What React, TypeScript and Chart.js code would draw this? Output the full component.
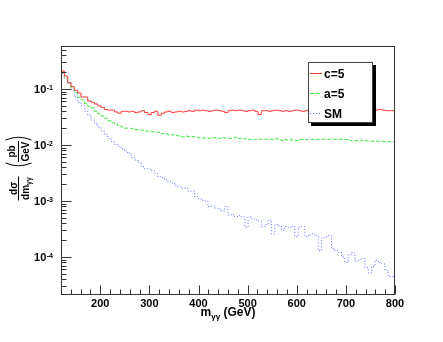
import React, { useEffect, useRef } from 'react';
import { Chart, registerables } from 'chart.js';

Chart.register(...registerables);

// ---- data ----
const X_MIN = 120;
const X_MAX = 800;
const Y_MIN = 2.1e-5;
const Y_MAX = 0.586;
const N_BINS = 100;

const SERIES_LABELS = ['c=5', 'a=5', 'SM'];

const C5 = [
  0.30, 0.21, 0.17, 0.13, 0.11, 0.095, 0.085, 0.072, 0.072, 0.061,
  0.058, 0.054, 0.050, 0.047, 0.043, 0.042, 0.042, 0.039, 0.037, 0.040,
  0.040, 0.039, 0.040, 0.038, 0.039, 0.041, 0.038, 0.035, 0.038, 0.040,
  0.034, 0.037, 0.039, 0.040, 0.038, 0.039, 0.040, 0.039, 0.040, 0.041,
  0.040, 0.042, 0.041, 0.042, 0.041, 0.040, 0.041, 0.042, 0.041, 0.040,
  0.038, 0.041, 0.042, 0.041, 0.042, 0.041, 0.040, 0.041, 0.042, 0.040,
  0.035, 0.041, 0.041, 0.040, 0.041, 0.042, 0.041, 0.040, 0.041, 0.040,
  0.041, 0.042, 0.041, 0.040, 0.041, 0.040, 0.039, 0.040, 0.041, 0.040,
  0.039, 0.040, 0.040, 0.039, 0.038, 0.039, 0.040, 0.038, 0.037, 0.038,
  0.037, 0.038, 0.039, 0.038, 0.041, 0.042, 0.043, 0.042, 0.041, 0.041,
];

const A5 = [
  0.34, 0.20, 0.16, 0.13, 0.105, 0.086, 0.070, 0.064, 0.055, 0.049,
  0.046, 0.040, 0.036, 0.033, 0.030, 0.027, 0.025, 0.024, 0.022, 0.021,
  0.020, 0.0200, 0.0195, 0.0190, 0.0185, 0.0185, 0.0178, 0.0175, 0.0172, 0.0170,
  0.0168, 0.0160, 0.0158, 0.0150, 0.0152, 0.0148, 0.0145, 0.0140, 0.0144, 0.0142,
  0.0141, 0.0140, 0.0135, 0.0133, 0.0136, 0.0132, 0.0134, 0.0135, 0.0132, 0.0136,
  0.0133, 0.0131, 0.0135, 0.0138, 0.0132, 0.0128, 0.0130, 0.0126, 0.0127, 0.0125,
  0.0128, 0.0126, 0.0127, 0.0128, 0.0126, 0.0129, 0.0125, 0.0120, 0.0124, 0.0127,
  0.0122, 0.0120, 0.0125, 0.0126, 0.0124, 0.0126, 0.0127, 0.0125, 0.0126, 0.0127,
  0.0126, 0.0127, 0.0127, 0.0126, 0.0127, 0.0125, 0.0126, 0.0122, 0.0118, 0.0120,
  0.0123, 0.0121, 0.0119, 0.0118, 0.0117, 0.0118, 0.0116, 0.0115, 0.0114, 0.0115,
];

const SM = [
  0.26, 0.19, 0.155, 0.125, 0.096, 0.072, 0.058, 0.050, 0.040, 0.034,
  0.028, 0.024, 0.0207, 0.0178, 0.0155, 0.0132, 0.0115, 0.0103, 0.0095, 0.0086,
  0.0078, 0.0071, 0.0060, 0.0054, 0.0049, 0.0041, 0.0038, 0.0037, 0.0035, 0.0031,
  0.0027, 0.0026, 0.0024, 0.0022, 0.0021, 0.0019, 0.0018, 0.0017, 0.0017, 0.0015,
  0.0015, 0.00120, 0.00110, 0.00103, 0.00100, 0.00080, 0.00082, 0.00075, 0.00072, 0.00066,
  0.00080, 0.00056, 0.00058, 0.00053, 0.00055, 0.00052, 0.00034, 0.00052, 0.00048, 0.00046,
  0.00044, 0.00035, 0.00038, 0.00046, 0.00026, 0.00038, 0.00036, 0.00030, 0.00035, 0.00034,
  0.00036, 0.00023, 0.00034, 0.00035, 0.00023, 0.00025, 0.00026, 0.00024, 0.00013, 0.00022,
  0.00023, 0.00024, 0.00014, 0.00013, 0.00012, 0.00010, 0.00008, 0.00011, 0.00012, 0.000085,
  0.000090, 0.000095, 0.000065, 0.000052, 0.000068, 0.000088, 0.000080, 0.000075, 0.000058, 0.000045,
];

const X_MAJOR_TICKS = [200, 300, 400, 500, 600, 700, 800];
const X_MINOR_STEP = 20;
const Y_DECADES = [-1, -2, -3, -4];

const COLORS = ['#ff3a3a', '#3ee83e', '#5a6cff'];
const DASHES: number[][] = [[], [4, 2], [1, 2]];

const FONT = '"Liberation Sans", Arial, Helvetica, sans-serif';

function histPoints(vals: number[]) {
  const w = (X_MAX - X_MIN) / N_BINS;
  const pts: { x: number; y: number }[] = [];
  for (let i = 0; i <= vals.length; i++) {
    pts.push({ x: X_MIN + i * w, y: vals[Math.min(i, vals.length - 1)] });
  }
  return pts;
}

const rootStyle = {
  id: 'rootStyle',
  afterDatasetsDraw(chart: any) {
    const { ctx, chartArea: a, scales } = chart;
    const xs = scales.x;
    const ys = scales.y;
    const L = Math.round(a.left) + 0.5;
    const R = Math.round(a.right) - 0.5;
    const T = Math.round(a.top) + 0.5;
    const B = Math.round(a.bottom) - 0.5;
    ctx.save();
    ctx.setLineDash([]);
    ctx.strokeStyle = '#333';
    ctx.lineWidth = 1;
    ctx.strokeRect(L, T, R - L, B - T);

    // x ticks
    ctx.beginPath();
    for (let v = X_MIN + X_MINOR_STEP; v < X_MAX + 0.001; v += X_MINOR_STEP) {
      const px = Math.round(xs.getPixelForValue(v)) + 0.5;
      const major = X_MAJOR_TICKS.indexOf(Math.round(v)) >= 0;
      ctx.moveTo(px, B);
      ctx.lineTo(px, B - (major ? 9 : 5));
    }
    // y ticks
    const dMin = Math.floor(Math.log10(Y_MIN));
    const dMax = Math.ceil(Math.log10(Y_MAX));
    for (let d = dMin; d <= dMax; d++) {
      for (let m = 1; m <= 9; m++) {
        const v = m * Math.pow(10, d);
        if (v < Y_MIN || v > Y_MAX) continue;
        const py = Math.round(ys.getPixelForValue(v)) + 0.5;
        ctx.moveTo(L, py);
        ctx.lineTo(L + (m === 1 ? 10 : 5), py);
      }
    }
    ctx.stroke();

    ctx.fillStyle = '#000';
    // x tick labels
    ctx.font = `bold 11px ${FONT}`;
    ctx.textAlign = 'center';
    ctx.textBaseline = 'alphabetic';
    X_MAJOR_TICKS.forEach((v) => {
      ctx.fillText(String(v), xs.getPixelForValue(v), 307);
    });

    // y tick labels 10^k
    Y_DECADES.forEach((d) => {
      const py = ys.getPixelForValue(Math.pow(10, d));
      ctx.font = `bold 7px ${FONT}`;
      const sup = String(d);
      const sw = ctx.measureText(sup).width;
      const right = 53;
      ctx.textAlign = 'left';
      ctx.fillText(sup, right - sw, py + 0.5);
      ctx.font = `bold 11px ${FONT}`;
      ctx.textAlign = 'right';
      ctx.fillText('10', right - sw - 0.5, py + 4);
    });

    // x title: m_{γγ} (GeV)
    {
      const cx = (a.left + a.right) / 2;
      ctx.font = `bold 12px ${FONT}`;
      const w1 = ctx.measureText('m').width;
      const w3 = ctx.measureText(' (GeV)').width;
      ctx.font = `bold 8px ${FONT}`;
      const w2 = ctx.measureText('γγ').width;
      let x0 = cx - (w1 + w2 + w3) / 2;
      const base = 316;
      ctx.textAlign = 'left';
      ctx.font = `bold 12px ${FONT}`;
      ctx.fillText('m', x0, base);
      x0 += w1;
      ctx.font = `bold 8px ${FONT}`;
      ctx.fillText('γγ', x0, base + 3);
      x0 += w2;
      ctx.font = `bold 12px ${FONT}`;
      ctx.fillText(' (GeV)', x0, base);
    }

    // y title: dσ/dm_{γγ} (pb/GeV), rotated
    {
      ctx.save();
      ctx.translate(18.5, 0);
      ctx.rotate(-Math.PI / 2);
      const c1 = -188.5;
      ctx.font = `bold 10px ${FONT}`;
      ctx.textAlign = 'center';
      ctx.fillText('dσ', c1, -2);
      const wd = ctx.measureText('dm').width;
      ctx.font = `bold 7px ${FONT}`;
      const wg = ctx.measureText('γγ').width;
      const dx = c1 - (wd + wg) / 2;
      ctx.textAlign = 'left';
      ctx.font = `bold 10px ${FONT}`;
      ctx.fillText('dm', dx, 10);
      ctx.font = `bold 7px ${FONT}`;
      ctx.fillText('γγ', dx + wd, 12.5);
      ctx.fillRect(c1 - 12, -0.5, 24, 1);
      const c2 = -151.5;
      ctx.font = `bold 10px ${FONT}`;
      ctx.textAlign = 'center';
      ctx.fillText('pb', c2, -4);
      ctx.fillText('GeV', c2, 10);
      ctx.fillRect(c2 - 10.5, -0.5, 21, 1);
      ctx.lineWidth = 1;
      ctx.strokeStyle = '#000';
      ctx.beginPath();
      ctx.moveTo(c2 - 11.5, -13);
      ctx.quadraticCurveTo(c2 - 17, 0, c2 - 11.5, 13);
      ctx.moveTo(c2 + 11.5, -13);
      ctx.quadraticCurveTo(c2 + 17, 0, c2 + 11.5, 13);
      ctx.stroke();
      ctx.restore();
    }

    // legend
    {
      const bx = 308, by = 62, bw = 65, bh = 61;
      ctx.fillStyle = '#000';
      ctx.fillRect(bx + 3, by + 3, bw, bh);
      ctx.fillStyle = '#fff';
      ctx.fillRect(bx, by, bw, bh);
      ctx.strokeStyle = '#444';
      ctx.lineWidth = 1;
      ctx.strokeRect(bx + 0.5, by + 0.5, bw - 1, bh - 1);
      SERIES_LABELS.forEach((lab, i) => {
        const y = by + 11 + i * 20;
        ctx.strokeStyle = COLORS[i];
        ctx.setLineDash(DASHES[i]);
        ctx.beginPath();
        ctx.moveTo(bx + 2, y + 0.5);
        ctx.lineTo(bx + 14, y + 0.5);
        ctx.stroke();
        ctx.setLineDash([]);
        ctx.fillStyle = '#000';
        ctx.font = `bold 12px ${FONT}`;
        ctx.textAlign = 'left';
        ctx.fillText(lab, bx + 16, y + 4.5);
      });
    }
    ctx.restore();
  },
};

export default function App() {
  const ref = useRef<HTMLCanvasElement | null>(null);
  useEffect(() => {
    if (!ref.current) return;
    const series = [C5, A5, SM];
    const chart = new Chart(ref.current, {
      type: 'line',
      data: {
        datasets: series.map((vals, i) => ({
          label: SERIES_LABELS[i],
          data: histPoints(vals),
          borderColor: COLORS[i],
          borderWidth: 1,
          borderDash: DASHES[i],
          pointRadius: 0,
          stepped: 'after' as const,
          fill: false,
          tension: 0,
        })),
      },
      options: {
        animation: false,
        responsive: false,
        events: [],
        layout: { padding: { left: 61, right: 48, top: 46, bottom: 47 } },
        scales: {
          x: { type: 'linear', min: X_MIN, max: X_MAX, display: false },
          y: { type: 'logarithmic', min: Y_MIN, max: Y_MAX, display: false },
        },
        plugins: { legend: { display: false }, tooltip: { enabled: false } },
      },
      plugins: [rootStyle],
    });
    return () => chart.destroy();
  }, []);
  return (
    <div style={{ position: 'absolute', left: 0, top: 0, width: 443, height: 342, background: '#fff' }}>
      <canvas ref={ref} width={443} height={342} style={{ display: 'block' }} />
    </div>
  );
}
